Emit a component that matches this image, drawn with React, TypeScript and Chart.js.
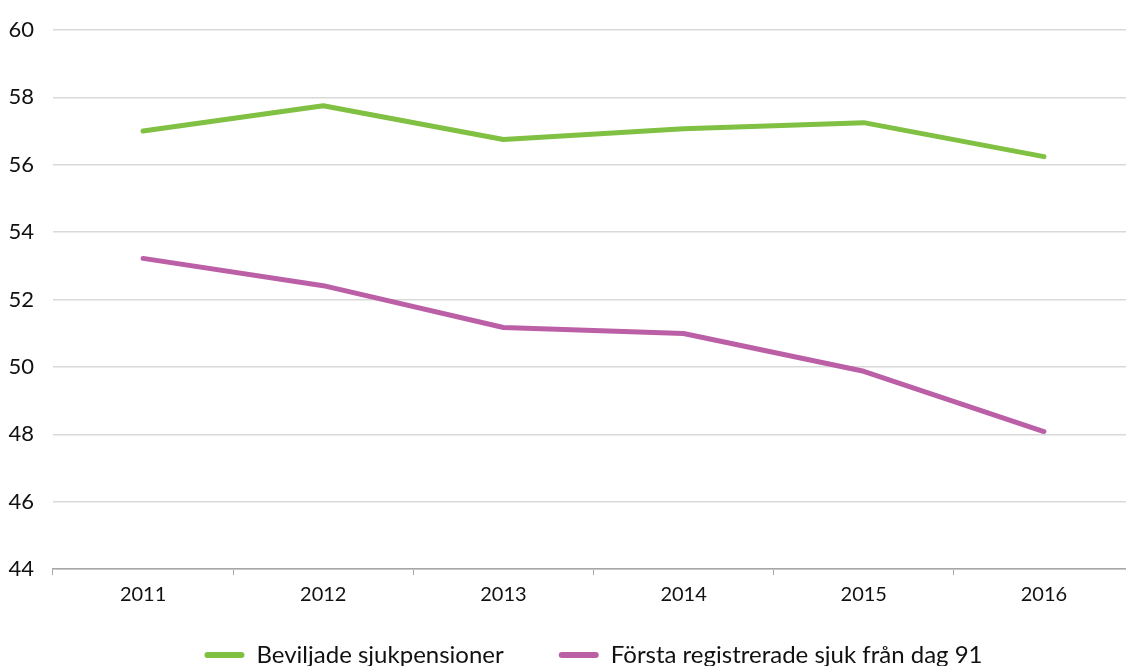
import React, { useEffect, useRef } from "react";
import { Chart, registerables } from "chart.js";

Chart.register(...registerables);

const years = ["2011", "2012", "2013", "2014", "2015", "2016"];
const beviljade = [57.0, 57.75, 56.75, 57.07, 57.25, 56.24];
const forsta = [53.22, 52.41, 51.17, 50.99, 49.87, 48.08];
const yMin = 44;
const yMax = 60;
const yStep = 2;

const FONT = "Lato, sans-serif";
const LEGEND_HEIGHT = 51;
const LEGEND_DRAW_UP = 27;

const legendTweak = {
  id: "legendTweak",
  beforeLayout(chart: any) {
    const lg = chart.legend;
    if (lg && !lg._tweaked) {
      const origFit = lg.fit.bind(lg);
      lg.fit = function () {
        origFit();
        this.height = LEGEND_HEIGHT;
      };
      const origDraw = lg.draw.bind(lg);
      lg.draw = function () {
        const t = this.top;
        this.top = t - LEGEND_DRAW_UP;
        origDraw();
        this.top = t;
      };
      lg._tweaked = true;
    }
  },
};

export default function App() {
  const ref = useRef<HTMLCanvasElement | null>(null);
  useEffect(() => {
    document.body.style.margin = "0";
    const ctx = ref.current!.getContext("2d")!;
    const chart = new Chart(ctx, {
      type: "line",
      data: {
        labels: years,
        datasets: [
          {
            label: "Beviljade sjukpensioner",
            data: beviljade,
            borderColor: "#80C042",
            backgroundColor: "#80C042",
            borderWidth: 5,
            pointRadius: 0,
            borderCapStyle: "round",
            borderJoinStyle: "round",
            tension: 0,
          },
          {
            label: "Första registrerade sjuk från dag 91",
            data: forsta,
            borderColor: "#BB60A6",
            backgroundColor: "#BB60A6",
            borderWidth: 5,
            pointRadius: 0,
            borderCapStyle: "round",
            borderJoinStyle: "round",
            tension: 0,
          },
        ],
      },
      plugins: [legendTweak],
      options: {
        animation: false,
        responsive: false,
        maintainAspectRatio: false,
        layout: { padding: { top: 0, left: 0, right: 0, bottom: 0 } },
        plugins: {
          tooltip: { enabled: false },
          legend: {
            position: "bottom",
            fullSize: false,
            labels: {
              color: "#111",
              font: { family: FONT, size: 24 },
              boxWidth: 40,
              boxHeight: 6,
              useBorderRadius: true,
              borderRadius: 3,
              padding: 55,
              generateLabels: (c: any) =>
                c.data.datasets.map((ds: any, i: number) => ({
                  text: ds.label,
                  fillStyle: ds.borderColor,
                  strokeStyle: ds.borderColor,
                  lineWidth: 0,
                  fontColor: "#111",
                  hidden: false,
                  datasetIndex: i,
                  borderRadius: 3,
                })),
            },
          },
        },
        scales: {
          x: {
            offset: true,
            grid: {
              offset: true,
              drawOnChartArea: false,
              drawTicks: true,
              tickLength: 6,
              color: "#a6a6a6",
            },
            border: { color: "#a6a6a6", width: 1.5 },
            ticks: { color: "#111", font: { family: FONT, size: 20 }, padding: 8 },
          },
          y: {
            min: yMin,
            max: yMax,
            afterFit: (s: any) => {
              s.width = 53;
            },
            ticks: {
              stepSize: yStep,
              color: "#111",
              font: { family: FONT, size: 22, lineHeight: 1 },
              padding: 19,
            },
            grid: { color: "#d9d9d9", lineWidth: 1.5, drawTicks: false },
            border: { display: false },
          },
        },
      },
    });
    return () => chart.destroy();
  }, []);
  return (
    <div style={{ position: "fixed", left: 0, top: 0, width: 1126, height: 666, overflow: "hidden", background: "#fff" }}>
      <canvas ref={ref} width={1134} height={666} style={{ display: "block" }} />
    </div>
  );
}
